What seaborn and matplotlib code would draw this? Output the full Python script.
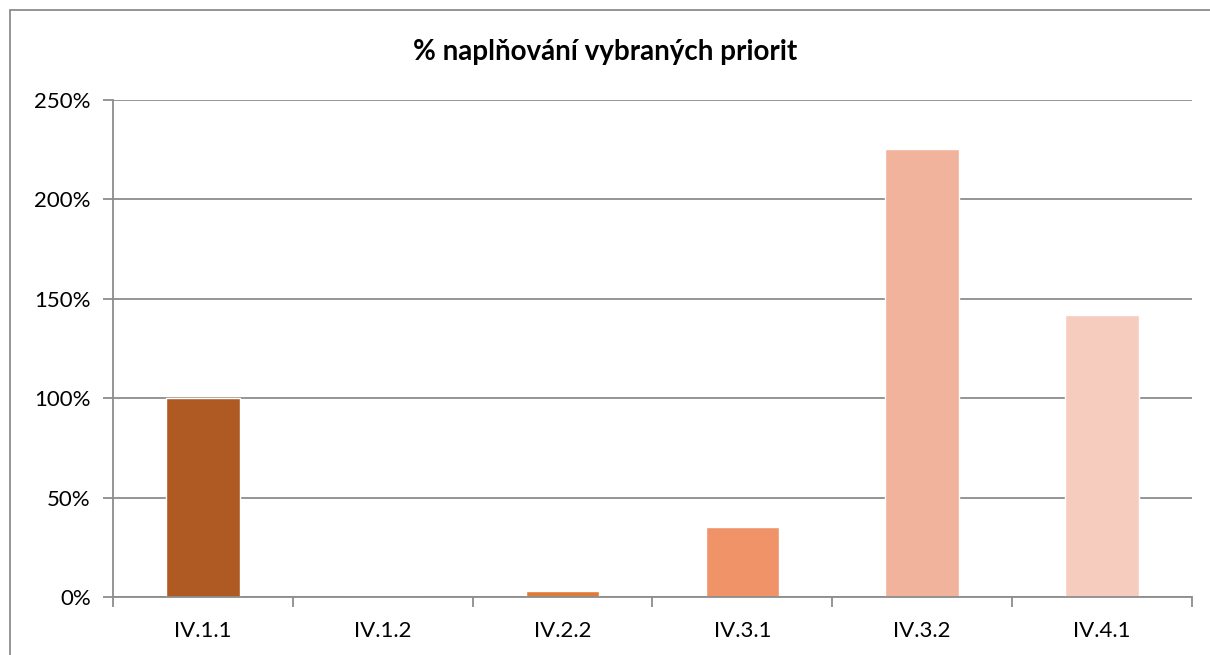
import matplotlib
matplotlib.use("Agg")
import matplotlib.pyplot as plt
import matplotlib.ticker as mticker
from matplotlib.patches import Rectangle
import seaborn as sns
import pandas as pd

categories = ["IV.1.1", "IV.1.2", "IV.2.2", "IV.3.1", "IV.3.2", "IV.4.1"]
values = [1.00, 0.0, 0.03, 0.352, 2.254, 1.419]
colors = ["#AF5A23", "#D06A2C", "#E07A34", "#F09368", "#F2B39D", "#F6CCBF"]
title = "% naplňování vybraných priorit"

sns.set_theme(style="white")
plt.rcParams["font.family"] = ["Lato", "DejaVu Sans"]

df = pd.DataFrame({"cat": categories, "val": values})

fig = plt.figure(figsize=(12.10, 6.55), dpi=100)
ax = fig.add_axes([113/1210, 1-597/655, (1192-113)/1210, (597-100)/655])

sns.barplot(data=df, x="cat", y="val", hue="cat", palette=colors, order=categories,
            hue_order=categories, width=0.41, legend=False, ax=ax, saturation=1, zorder=3)

ax.set_ylim(0, 2.5)
ax.set_xlim(-0.5, len(categories) - 0.5)
ax.yaxis.set_major_locator(mticker.MultipleLocator(0.5))
ax.yaxis.set_major_formatter(mticker.FuncFormatter(lambda v, p: f"{v*100:.0f}%"))
ax.grid(axis="y", color="#8c8c8c", linewidth=1.3, zorder=0)
ax.set_axisbelow(True)
ax.set_xlabel("")
ax.set_ylabel("")

for s in ["top", "right"]:
    ax.spines[s].set_visible(False)
for s in ["left", "bottom"]:
    ax.spines[s].set_visible(True)
    ax.spines[s].set_color("#8c8c8c")
    ax.spines[s].set_linewidth(1.3)
ax.spines["bottom"].set_zorder(4)

ax.tick_params(axis="y", which="major", left=True, length=7, width=1.3, color="#8c8c8c",
               labelsize=16, pad=9, labelcolor="#000000")
ax.tick_params(axis="x", which="major", bottom=False, length=0, labelsize=16, pad=17,
               labelcolor="#000000")
ax.set_xticks(range(len(categories)))
ax.set_xticklabels(categories)
ax.set_xticks([i - 0.5 for i in range(len(categories) + 1)], minor=True)
ax.tick_params(axis="x", which="minor", bottom=True, length=7, width=1.3, color="#8c8c8c")

fig.text(0.5, 1-52/655, title, ha="center", va="center", fontsize=20, fontweight="bold",
         color="#000000")

border = Rectangle((10/1210, -0.1), 1.2, 1-10/655 + 0.1, transform=fig.transFigure,
                   fill=False, edgecolor="#8c8c8c", linewidth=1.3)
fig.patches.append(border)

fig.savefig("out.png", dpi=100)
